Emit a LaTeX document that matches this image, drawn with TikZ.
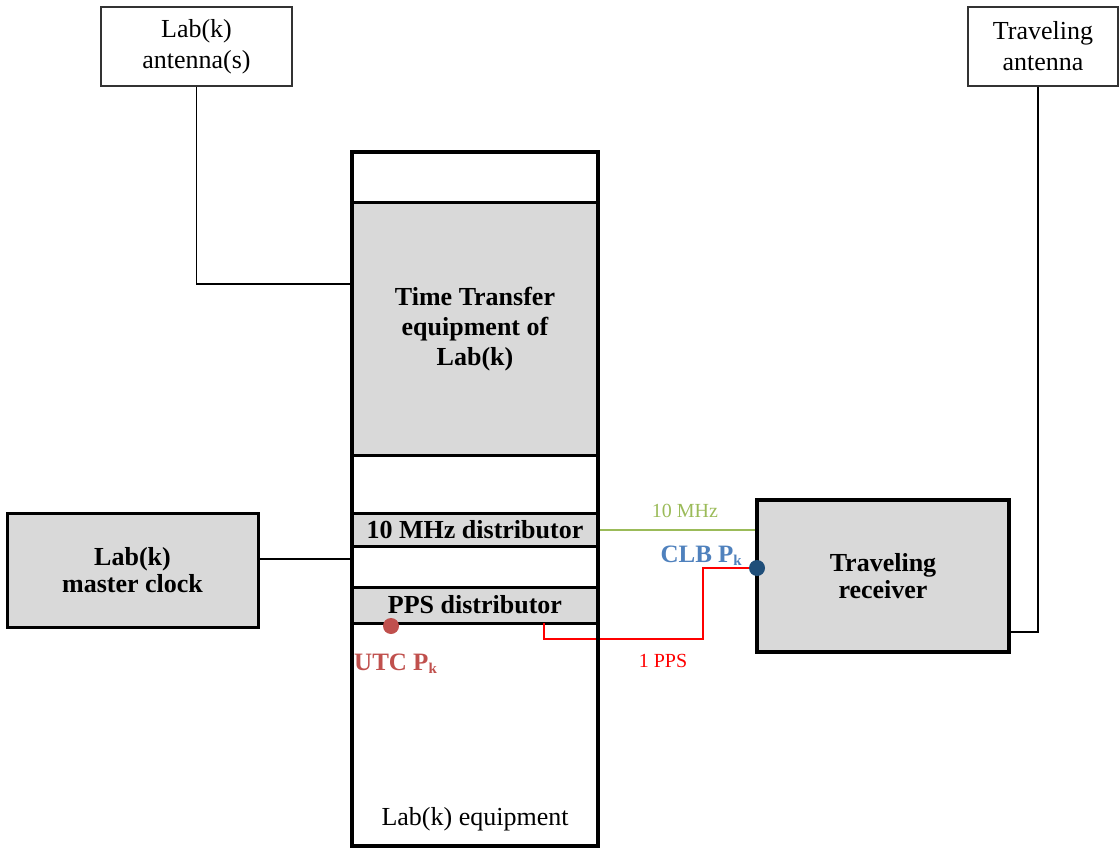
\documentclass[tikz,border=0pt]{standalone}
\usepackage{fontspec}
\setmainfont{Liberation Serif}
\definecolor{boxgrey}{HTML}{D9D9D9}
\definecolor{mhzgreen}{HTML}{9BBB59}
\definecolor{clbblue}{HTML}{4F81BD}
\definecolor{dotblue}{HTML}{1F4E79}
\definecolor{utcred}{HTML}{C0504D}
\newcommand\subk{\raisebox{-0.3ex}{\fontsize{15}{15}\selectfont k}}
\begin{document}
\begin{tikzpicture}[x=1pt,y=-1pt,
  antbox/.style={draw=black!80,line width=1.2pt,fill=white,inner sep=0pt,align=center,font=\fontsize{26}{31}\selectfont},
  greybox/.style={draw=black,fill=boxgrey,inner sep=0pt,align=center,font=\fontsize{26}{27}\selectfont\bfseries},
  link/.style={draw=black,line width=1.5pt},
  dot/.style={circle,inner sep=0pt,minimum size=16pt},
  smalllabel/.style={inner sep=0pt,font=\fontsize{20}{20}\selectfont},
  biglabel/.style={inner sep=0pt,font=\fontsize{25}{25}\selectfont\bfseries}]
\useasboundingbox (0,0) rectangle (1119,850);
% named join points
\coordinate (antjoin) at (352,284);
\coordinate (clockjoin) at (352,559);
\coordinate (ppsout) at (544,623);
\coordinate (ppsbend) at (703,639);
\coordinate (clb) at (757,568);
\coordinate (tajoin) at (1038,632);
% antenna boxes
\node[antbox, minimum width=191pt, minimum height=79pt] (labant) at (196.5,46.5) {Lab(k)\\antenna(s)};
\node[antbox, minimum width=150pt, minimum height=79pt] (travant) at (1043,46.5) {Traveling\\antenna};
% main column sections
\node[greybox, line width=3pt, minimum width=246pt, minimum height=252pt, font=\fontsize{26}{30}\selectfont\bfseries] (tt) at (475,329) {Time Transfer\\equipment of\\Lab(k)};
\node[greybox, line width=3pt, minimum width=246pt, minimum height=33pt] (mhz) at (475,529.5) {10 MHz distributor};
\node[greybox, line width=3pt, minimum width=246pt, minimum height=36pt] (pps) at (475,605) {PPS distributor};
\node[anchor=base, inner sep=0pt, font=\fontsize{26}{26}\selectfont] (eqlabel) at (475,825) {Lab(k) equipment};
% side boxes
\node[greybox, line width=3pt, minimum width=251pt, minimum height=114pt] (clock) at (132.5,570) {Lab(k)\\master clock};
\node[greybox, line width=4.5pt, minimum width=252pt, minimum height=152pt] (rx) at (883,576) {Traveling\\receiver};
% connectors
\draw[link] (labant.south) |- (antjoin);
\draw[link] (clock.east |- clockjoin) -- (clockjoin);
\draw[link] (travant.south -| tajoin) -- (tajoin) -- (tajoin -| rx.east);
\draw[red, line width=2pt] (ppsout) |- (ppsbend) |- (clb);
\draw[mhzgreen, line width=2pt] (mhz.east) -- (mhz.east -| rx.west);
% main outline
\node[draw, line width=4pt, minimum width=246pt, minimum height=694pt, inner sep=0pt] (main) at (475,499) {};
% dots and labels
\node[dot, fill=dotblue] (clbdot) at (clb) {};
\node[dot, fill=utcred] (utcdot) at (391,626) {};
\node[smalllabel, mhzgreen, anchor=base] (mhzlabel) at (685,517) {10 MHz};
\node[smalllabel, red, anchor=base] (ppslabel) at (663,667) {1 PPS};
\node[biglabel, clbblue, anchor=base east] (clblabel) at (742,562) {CLB P\subk};
\node[biglabel, utcred, anchor=base west] (utclabel) at (354,670) {UTC P\subk};
\end{tikzpicture}
\end{document}
